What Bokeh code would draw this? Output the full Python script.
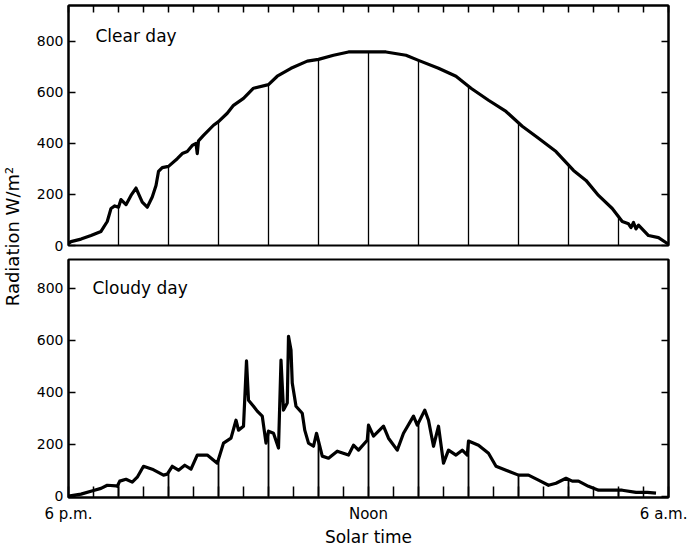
import numpy as np
from bokeh.plotting import figure
from bokeh.models import Range1d, LinearAxis, FixedTicker, Label
from bokeh.layouts import row, column
from bokeh.embed import file_html
from bokeh.resources import INLINE

# ---------------- data ----------------
clear_hours = [0, 0.1, 0.5, 0.9, 1.3, 1.55, 1.7, 1.85, 2.0, 2.1, 2.3, 2.5, 2.7, 2.95,
               3.15, 3.35, 3.5, 3.6, 3.75, 4.0, 4.35, 4.55, 4.75, 4.95, 5.1, 5.15, 5.2,
               5.4, 5.8, 6.0, 6.35, 6.6, 7.0, 7.4, 8.0, 8.35, 8.9, 9.55, 10.0, 10.6,
               11.2, 12.0, 12.7, 13.5, 14.0, 14.8, 15.5, 16.1, 16.8, 17.5, 18.15, 18.8,
               19.5, 20.2, 20.7, 21.2, 21.75, 22.15, 22.4, 22.5, 22.6, 22.7, 22.8,
               23.2, 23.6, 24.0]
clear_rad = [8, 15, 25, 39, 55, 94, 145, 155, 150, 180, 160, 196, 225, 170,
             150, 190, 235, 290, 305, 310, 340, 360, 368, 392, 400, 360, 410,
             431, 471, 485, 518, 549, 576, 616, 630, 663, 694, 722, 729, 745,
             758, 758, 758, 745, 725, 694, 663, 616, 569, 525, 467, 420,
             368, 294, 255, 196, 145, 94, 85, 70, 90, 65, 80,
             39, 31, 5]

cloudy_hours = [0.0, 0.5, 1.0, 1.3, 1.55, 1.9, 1.95, 2.05, 2.3, 2.55, 2.75, 3.0, 3.35,
                3.8, 3.95, 4.15, 4.4, 4.65, 4.9, 5.15, 5.55, 5.95, 6.2, 6.5, 6.7, 6.8,
                7.0, 7.12, 7.2, 7.4, 7.55, 7.75, 7.9, 8.0, 8.2, 8.4, 8.5, 8.6, 8.75,
                8.8, 8.9, 8.95, 9.1, 9.35, 9.45, 9.6, 9.8, 9.92, 10.15, 10.4, 10.75,
                11.2, 11.4, 11.6, 11.95, 12.0, 12.2, 12.6, 12.8, 13.15, 13.4, 13.8,
                13.95, 14.25, 14.4, 14.6, 14.8, 15.0, 15.2, 15.5, 15.75, 15.95, 16.0,
                16.4, 16.8, 17.1, 17.5, 18.0, 18.4, 18.8, 19.2, 19.5, 19.9, 20.15,
                20.4, 20.8, 21.2, 21.75, 22.15, 22.7, 23.15, 23.5]
cloudy_rad = [0, 8, 22, 30, 42, 40, 38, 58, 65, 54, 73, 115, 104,
              81, 85, 115, 100, 119, 104, 158, 158, 127, 204, 223, 292, 254,
              269, 520, 369, 346, 327, 308, 204, 250, 242, 185, 523, 331, 358,
              615, 562, 435, 346, 319, 254, 204, 192, 242, 154, 146, 173,
              158, 196, 177, 215, 273, 231, 269, 223, 177, 242, 308,
              273, 331, 292, 192, 269, 127, 177, 158, 177, 158, 212,
              196, 165, 115, 100, 81, 81, 62, 42, 50, 69, 58,
              58, 38, 23, 23, 23, 15, 15, 12]

marker_hours = [2, 4, 6, 8, 10, 12, 14, 16, 18, 20, 22]
hour_ticks = list(range(25))
rad_ticks = [0, 200, 400, 600, 800]
time_labels = {0: "6 p.m.", 12: "Noon", 24: "6 a.m."}
panel_titles = ["Clear day", "Cloudy day"]
y_title = "Radiation W/m\u00b2"
x_title = "Solar time"

FONT = "DejaVu Sans"


def style_axis(ax, tick_in=7):
    ax.axis_line_color = "black"
    ax.axis_line_width = 2
    ax.major_tick_in = tick_in
    ax.major_tick_out = 0
    ax.major_tick_line_width = 1.5
    ax.major_tick_line_color = "black"
    ax.minor_tick_line_color = None
    ax.major_label_text_font = FONT
    ax.major_label_text_font_size = "14px"
    ax.major_label_text_color = "black"


def make_panel(hours, rad, ymin, ymax, is_top, seg_width, fh):
    p = figure(frame_width=600, frame_height=fh,
               x_range=Range1d(0, 24), y_range=Range1d(ymin, ymax),
               output_backend="svg", toolbar_location=None,
               x_axis_location="above" if is_top else "below",
               min_border_left=33, min_border_right=19,
               min_border_top=5 if is_top else 7,
               min_border_bottom=7 if is_top else 40)
    p.grid.visible = False
    p.outline_line_color = "black"
    p.outline_line_width = 2
    p.background_fill_color = "white"
    p.border_fill_color = "white"

    # x axis
    xa = p.xaxis[0]
    style_axis(xa, tick_in=7 if is_top else 11)
    xa.ticker = FixedTicker(ticks=hour_ticks)
    if is_top:
        xa.major_label_overrides = {t: "" for t in hour_ticks}
        xa.major_label_text_font_size = "0px"
        xa.major_label_standoff = 0
    else:
        xa.major_label_overrides = {t: time_labels.get(t, "") for t in hour_ticks}
        xa.major_label_text_font_size = "15px"
        xa.major_label_standoff = 7
        xa.axis_label = x_title
        xa.axis_label_text_font = FONT
        xa.axis_label_text_font_size = "17px"
        xa.axis_label_text_font_style = "normal"
        xa.axis_label_text_color = "black"
        xa.axis_label_standoff = 1

    # left y axis
    ya = p.yaxis[0]
    style_axis(ya)
    ya.ticker = FixedTicker(ticks=rad_ticks)
    ya.major_label_standoff = 5

    # right y axis (ticks only)
    ra = LinearAxis(ticker=FixedTicker(ticks=rad_ticks))
    style_axis(ra)
    ra.major_label_overrides = {t: "" for t in rad_ticks}
    ra.major_label_text_font_size = "0px"
    ra.major_label_standoff = 0
    p.add_layout(ra, "right")

    # hourly marker lines down to zero
    tops = np.interp(marker_hours, hours, rad)
    p.segment(x0=marker_hours, y0=[0] * len(marker_hours), x1=marker_hours, y1=tops,
              line_color="black", line_width=seg_width)

    # trace
    p.line(hours, rad, line_color="black", line_width=3.2, line_join="round")

    return p


p1 = make_panel(clear_hours, clear_rad, 0, 940, True, 1.3, 240)
p1.add_layout(Label(x=0, y=822, x_offset=27, text=panel_titles[0],
                    text_font=FONT, text_font_size="17px", text_color="black",
                    text_baseline="middle", text_align="left"))

p2 = make_panel(cloudy_hours, cloudy_rad, -5, 910, False, 1.8, 238)
p2.add_layout(Label(x=0, y=800, x_offset=24, text=panel_titles[1],
                    text_font=FONT, text_font_size="17px", text_color="black",
                    text_baseline="middle", text_align="left"))

total_h = (5 + 240 + 7) + (7 + 238 + 40)
lab = figure(width=33, height=total_h, x_range=Range1d(0, 33),
             y_range=Range1d(0, total_h), output_backend="svg",
             toolbar_location=None, x_axis_location=None, y_axis_location=None,
             min_border=0)
lab.grid.visible = False
lab.outline_line_color = None
lab.add_layout(Label(x=12, y=total_h - 236, text=y_title, angle=np.pi / 2,
                     text_font=FONT, text_font_size="18px", text_color="black",
                     text_align="center", text_baseline="middle"))

layout = row(lab, column(p1, p2, spacing=0), spacing=0)

open("out.html", "w").write(file_html(layout, INLINE))
